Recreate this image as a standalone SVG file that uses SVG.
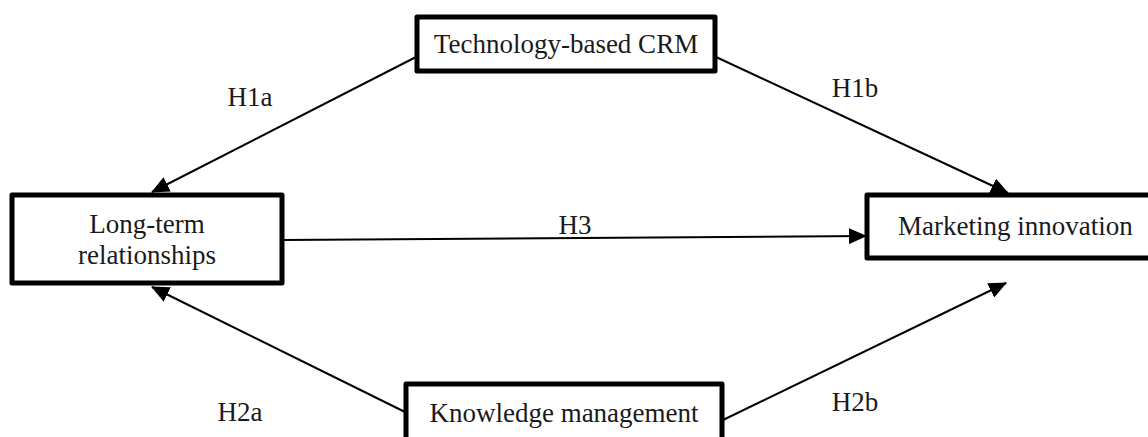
<svg xmlns="http://www.w3.org/2000/svg" width="1148" height="437" viewBox="0 0 1148 437">
<defs>
<style>
.box{fill:#fff;stroke:#000;stroke-width:5;stroke-linejoin:round}
.t{font-family:"Liberation Serif","Times New Roman",serif;font-size:27px;fill:#1a1a1a}
.c{stroke:#000;stroke-width:2;fill:none;marker-end:url(#ah)}
</style>
<marker id="ah" markerUnits="userSpaceOnUse" markerWidth="18" markerHeight="16" refX="17" refY="8" orient="auto">
<path d="M0,0 L18,8 L0,16 Z" fill="#000"/>
</marker>
</defs>
<g id="connectors">
<line class="c" x1="416" y1="57" x2="152" y2="192"/>
<line class="c" x1="716" y1="57" x2="1008" y2="193"/>
<line class="c" x1="283" y1="240" x2="866" y2="236"/>
<line class="c" x1="405" y1="412" x2="152" y2="287"/>
<line class="c" x1="723" y1="420" x2="1006" y2="283"/>
<text class="t" x="250" y="106" text-anchor="middle">H1a</text>
<text class="t" x="855" y="97" text-anchor="middle">H1b</text>
<text class="t" x="575" y="234" text-anchor="middle">H3</text>
<text class="t" x="240" y="421" text-anchor="middle">H2a</text>
<text class="t" x="855" y="411" text-anchor="middle">H2b</text>
</g>
<g id="tech">
<rect class="box" x="417" y="17" width="298" height="54"/>
<text class="t" x="566" y="53" text-anchor="middle">Technology-based CRM</text>
</g>
<g id="longterm">
<rect class="box" x="12" y="195" width="270" height="88"/>
<text class="t" x="147" y="233" text-anchor="middle">Long-term</text>
<text class="t" x="147" y="264" text-anchor="middle">relationships</text>
</g>
<g id="marketing">
<rect class="box" x="867" y="195" width="300" height="63"/>
<text class="t" x="898" y="235">Marketing innovation</text>
</g>
<g id="knowledge">
<rect class="box" x="406" y="384" width="316" height="80"/>
<text class="t" x="564" y="422" text-anchor="middle">Knowledge management</text>
</g>
</svg>
